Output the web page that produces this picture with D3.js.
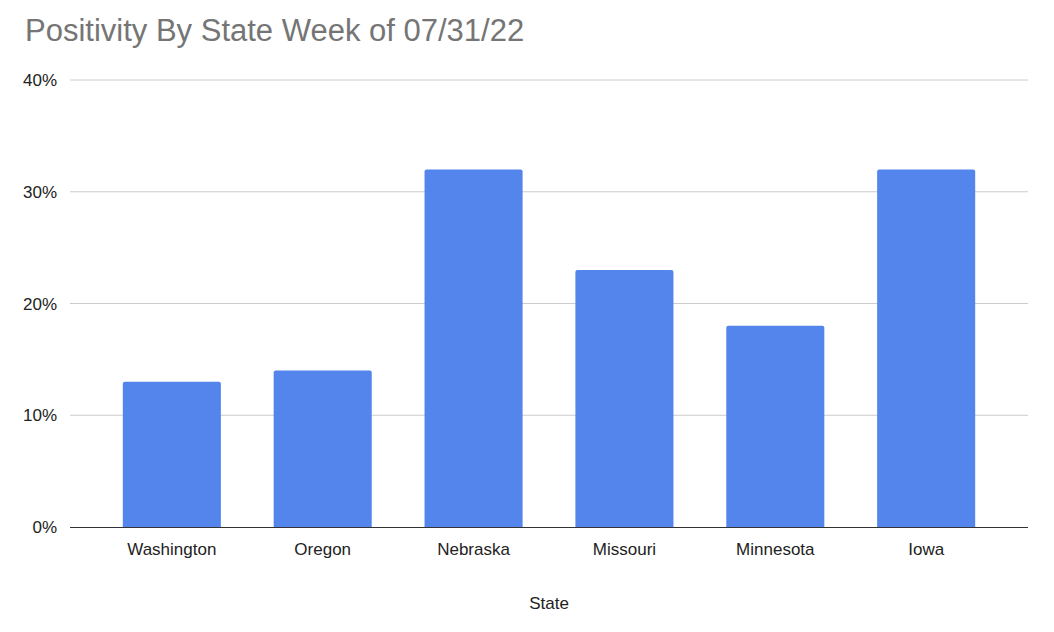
<!DOCTYPE html>
<html><head><script src="https://cdn.jsdelivr.net/npm/d3@7"></script>
<style>body{margin:0;background:#fff}text{font-family:Arial,"Liberation Sans",sans-serif}</style></head>
<body><svg id="c" width="1054" height="632"></svg>
<script>
const categories=["Washington","Oregon","Nebraska","Missouri","Minnesota","Iowa"];
const values=[13,14,32,23,18,32];
const yTicks=[0,10,20,30,40];
const svg=d3.select("#c");
const x=d3.scaleBand().domain(categories).range([70,1028]).paddingInner(0.35).paddingOuter(0.35);
const y=d3.scaleLinear().domain([0,40]).range([527,80]);
svg.append("text").attr("x",25).attr("y",41).attr("font-size",31).attr("fill","#757575").text("Positivity By State Week of 07/31/22");
svg.selectAll(".g").data(yTicks.slice(1)).join("line").attr("x1",70).attr("x2",1028).attr("y1",d=>y(d)).attr("y2",d=>y(d)).attr("stroke","#cccccc").attr("stroke-width",1);
svg.selectAll(".yl").data(yTicks).join("text").attr("x",57).attr("y",d=>y(d)+6).attr("text-anchor","end").attr("font-size",17).attr("fill","#222").text(d=>d+"%");
svg.selectAll(".b").data(values).join("path").attr("fill","#5385ec").attr("d",(d,i)=>{const x0=x(categories[i]),w=x.bandwidth(),y0=y(d),r=2;return `M${x0},527V${y0+r}Q${x0},${y0} ${x0+r},${y0}H${x0+w-r}Q${x0+w},${y0} ${x0+w},${y0+r}V527Z`;});
svg.append("line").attr("x1",70).attr("x2",1028).attr("y1",527.5).attr("y2",527.5).attr("stroke","#333").attr("stroke-width",1.2);
svg.selectAll(".xl").data(categories).join("text").attr("x",d=>x(d)+x.bandwidth()/2).attr("y",555).attr("text-anchor","middle").attr("font-size",17).attr("fill","#222").text(d=>d);
svg.append("text").attr("x",549).attr("y",609).attr("text-anchor","middle").attr("font-size",17).attr("fill","#222").text("State");
</script></body></html>
